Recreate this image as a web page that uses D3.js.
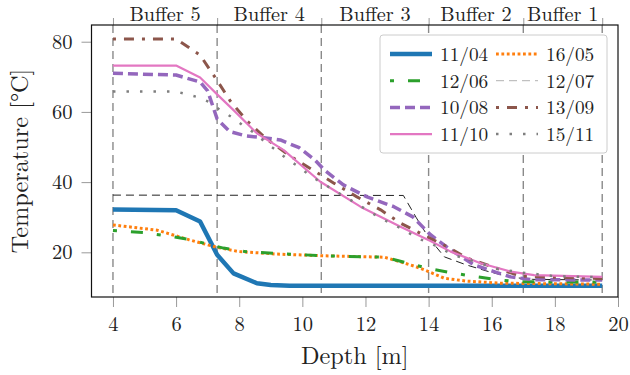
<!DOCTYPE html>
<html>
<head>
<meta charset="utf-8">
<script src="https://cdn.jsdelivr.net/npm/d3@7"></script>
<style>
  body { margin: 0; background: #fff; }
</style>
</head>
<body>
<div id="chart"></div>
<script>
// Chart size and plot frame
const width = 630;
const height = 375;
const frame = { left: 91.5, right: 618, top: 25, bottom: 297 };
const font = "'Latin Modern Roman', 'Liberation Serif', serif";

// Data (depth in m, temperature in °C)
const depth1104 = [4, 6, 6.76, 7.3, 7.82, 8.56, 9.0, 9.6, 19.5];
const temp1104 = [32.2, 32.0, 28.8, 19.3, 14.0, 11.2, 10.7, 10.5, 10.5];

const depth1605 = [4, 5.4, 6.4, 7.3, 8, 9.2, 10.7, 12.6, 13.1, 13.6, 14, 14.5, 15.2, 16.3, 19.5];
const temp1605 = [27.8, 26.3, 23.6, 21.4, 20.2, 19.5, 19.0, 18.6, 17.3, 15.9, 14.5, 12.6, 11.8, 11.2, 10.9];

const depth1206 = [4, 5, 6, 6.4, 7.5, 8.2, 9.1, 10.7, 12.6, 13.3, 14, 14.7, 15.4, 16.1, 16.8, 19.5];
const temp1206 = [26.2, 25.6, 24.3, 23.7, 21.2, 20.2, 19.7, 19.0, 18.6, 17.0, 15.4, 14.2, 13.2, 12.3, 11.6, 11.5];

const depth1207 = [4, 13.2, 13.6, 14.0, 14.5, 15.2, 15.9, 16.6, 17.3, 19.5];
const temp1207 = [36.3, 36.2, 30.0, 24.2, 18.7, 16.4, 14.5, 12.9, 12.3, 12.1];

const depth1008 = [4, 6, 6.76, 7.0, 7.3, 7.7, 8.2, 8.9, 9.3, 9.9, 10.4, 10.7, 11.3, 12.05, 12.9, 13.5, 14.06, 14.7, 15.44, 16.07, 16.6, 17.3, 19.5];
const temp1008 = [71.0, 70.5, 68.5, 66.0, 58.0, 54.4, 53.2, 52.5, 52.0, 49.8, 46.3, 43.4, 39.2, 35.8, 33.0, 30.1, 25.0, 20.7, 16.4, 14.5, 13.0, 12.2, 12.1];

const depth1309 = [4, 6, 6.76, 7.29, 7.71, 8.24, 8.85, 9.62, 10.25, 11, 11.73, 12.48, 13.11, 13.85, 14.59, 15.23, 16.18, 16.92, 19.5];
const temp1309 = [80.8, 80.8, 76.2, 69.1, 63.2, 57.5, 52.4, 47.4, 43.9, 39.7, 35.8, 32.1, 28.3, 24.9, 21.6, 18.3, 15.4, 13.2, 12.5];

const depth1110 = [4, 6, 6.76, 7.3, 7.82, 8.56, 9.41, 10.57, 11.84, 13.11, 14.06, 14.7, 15.65, 16.6, 17.34, 19.5];
const temp1110 = [73.2, 73.2, 69.8, 65.0, 60.5, 53.9, 49.1, 40.1, 33.0, 27.3, 23.2, 20.2, 16.9, 14.5, 13.5, 13.0];

const depth1511 = [4, 6, 6.65, 7.08, 7.4, 7.82, 8.14, 8.5, 8.83, 9.2, 9.51, 9.88, 10.25, 11, 11.73, 12.48, 13.22, 13.64, 14.06, 14.8, 15.65, 16.13, 16.97, 17.4, 18, 19.5];
const temp1511 = [65.8, 65.8, 64.3, 62.7, 60.5, 58.2, 56.0, 53.9, 51.3, 48.9, 46.6, 44.4, 41.8, 37.7, 33.8, 29.7, 26.4, 24.0, 22.6, 19.2, 16.9, 15.4, 14.2, 13.8, 13.2, 12.9];

// Buffer boundaries and names
const bufferEdges = [4, 7.3, 10.6, 14, 17, 19.5];
const bufferNames = ["Buffer 5", "Buffer 4", "Buffer 3", "Buffer 2", "Buffer 1"];

// Axis ticks
const xTicks = [4, 6, 8, 10, 12, 14, 16, 18, 20];
const yTicks = [20, 40, 60, 80];

// Series styles (order = draw order)
const series = [
  { name: "11/04", x: depth1104, y: temp1104, color: "#1f77b4", w: 4.5, dash: null },
  { name: "16/05", x: depth1605, y: temp1605, color: "#ff7f0e", w: 3, dash: "2.8,2.6" },
  { name: "12/06", x: depth1206, y: temp1206, color: "#2ca02c", w: 3, dash: "4,14,12,14" },
  { name: "12/07", x: depth1207, y: temp1207, color: "#222222", w: 1, dash: "8,5" },
  { name: "10/08", x: depth1008, y: temp1008, color: "#9467bd", w: 3.5, dash: "10,5" },
  { name: "13/09", x: depth1309, y: temp1309, color: "#8c564b", w: 3, dash: "3,8,10,8" },
  { name: "11/10", x: depth1110, y: temp1110, color: "#e377c2", w: 2.2, dash: null },
  { name: "15/11", x: depth1511, y: temp1511, color: "#7f7f7f", w: 2.5, dash: "2.5,11" }
];

// Legend layout: two columns, row-wise
const legendOrder = ["11/04", "16/05", "12/06", "12/07", "10/08", "13/09", "11/10", "15/11"];

const svg = d3.select("#chart")
  .append("svg")
  .attr("width", width)
  .attr("height", height);

const x = d3.scaleLinear().domain([3.32, 20]).range([frame.left, frame.right]);
const y = d3.scaleLinear().domain([7.27, 84.76]).range([frame.bottom, frame.top]);

// Vertical buffer boundary lines
svg.append("g")
  .selectAll("line")
  .data(bufferEdges)
  .join("line")
  .attr("x1", d => x(d))
  .attr("x2", d => x(d))
  .attr("y1", frame.top)
  .attr("y2", frame.bottom)
  .attr("stroke", "#8a8a8a")
  .attr("stroke-width", 1.4)
  .attr("stroke-dasharray", "8,5");

// Curves
const line = d3.line()
  .x(d => x(d[0]))
  .y(d => y(d[1]));

svg.append("g")
  .selectAll("path")
  .data(series)
  .join("path")
  .attr("d", s => line(s.x.map((d, i) => [d, s.y[i]])))
  .attr("fill", "none")
  .attr("stroke", s => s.color)
  .attr("stroke-width", s => s.w)
  .attr("stroke-dasharray", s => s.dash)
  .attr("stroke-linejoin", "round");

// Bottom axis
const xAxis = svg.append("g")
  .attr("transform", `translate(0,${frame.bottom})`)
  .call(d3.axisBottom(x).tickValues(xTicks).tickSize(10).tickPadding(9).tickFormat(d3.format("d")));

// Left axis
const yAxis = svg.append("g")
  .attr("transform", `translate(${frame.left},0)`)
  .call(d3.axisLeft(y).tickValues(yTicks).tickSize(10).tickPadding(9).tickFormat(d3.format("d")));

// Top axis: ticks at buffer edges, labels at centres
const topAxis = svg.append("g")
  .attr("transform", `translate(0,${frame.top})`)
  .call(d3.axisTop(x).tickValues(bufferEdges).tickSize(7).tickFormat(""));

[xAxis, yAxis, topAxis].forEach(a => {
  a.select(".domain").remove();
  a.selectAll(".tick line").attr("stroke", "#999").attr("stroke-width", 1);
  a.selectAll(".tick text")
    .style("font-family", font)
    .style("font-size", "20.5px")
    .attr("fill", "#222");
});

svg.append("g")
  .selectAll("text")
  .data(bufferNames)
  .join("text")
  .attr("x", (d, i) => x((bufferEdges[i] + bufferEdges[i + 1]) / 2))
  .attr("y", 21)
  .attr("text-anchor", "middle")
  .style("font-family", font)
  .style("font-size", "20.3px")
  .attr("fill", "#222")
  .text(d => d);

// Frame
svg.append("rect")
  .attr("x", frame.left)
  .attr("y", frame.top)
  .attr("width", frame.right - frame.left)
  .attr("height", frame.bottom - frame.top)
  .attr("fill", "none")
  .attr("stroke", "#111")
  .attr("stroke-width", 1.2);

// Axis labels
svg.append("text")
  .attr("x", (frame.left + frame.right) / 2)
  .attr("y", 364)
  .attr("text-anchor", "middle")
  .style("font-family", font)
  .style("font-size", "24.3px")
  .attr("fill", "#222")
  .text("Depth [m]");

svg.append("text")
  .attr("transform", `translate(28,${(frame.top + frame.bottom) / 2}) rotate(-90)`)
  .attr("text-anchor", "middle")
  .style("font-family", font)
  .style("font-size", "24.3px")
  .attr("fill", "#222")
  .text("Temperature [°C]");

// Legend
const legend = svg.append("g");
legend.append("rect")
  .attr("x", 380)
  .attr("y", 35)
  .attr("width", 227)
  .attr("height", 118)
  .attr("rx", 3)
  .attr("fill", "#fff")
  .attr("stroke", "#cccccc")
  .attr("stroke-width", 1);

const items = legend.selectAll("g.item")
  .data(legendOrder.map(n => series.find(s => s.name === n)))
  .join("g")
  .attr("class", "item")
  .attr("transform", (d, i) => `translate(${i % 2 === 0 ? 390 : 496},${54 + Math.floor(i / 2) * 26.7})`);

items.append("line")
  .attr("x1", 0)
  .attr("x2", 42)
  .attr("stroke", d => d.color)
  .attr("stroke-width", d => d.w)
  .attr("stroke-dasharray", d => d.dash)
  .attr("stroke-opacity", d => d.name === "12/07" ? 0.35 : 1);

items.append("text")
  .attr("x", 50)
  .attr("y", 7)
  .style("font-family", font)
  .style("font-size", "19.3px")
  .attr("fill", "#222")
  .text(d => d.name);
</script>
</body>
</html>
